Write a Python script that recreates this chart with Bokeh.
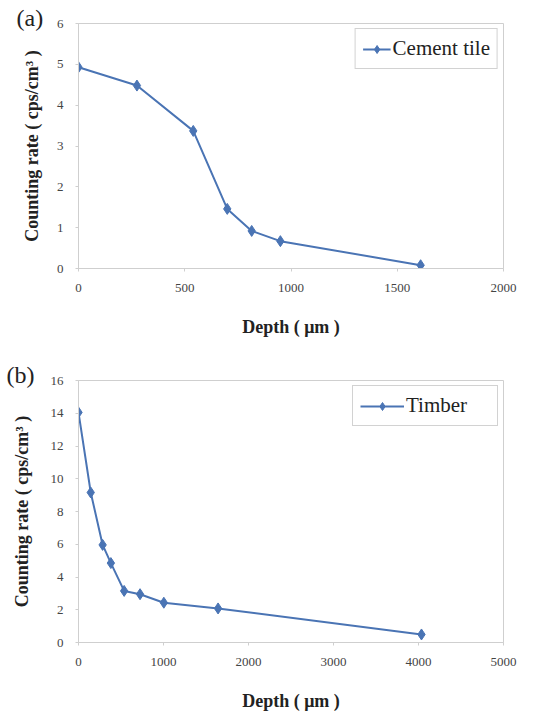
from bokeh.plotting import figure
from bokeh.layouts import column
from bokeh.models import Range1d, SingleIntervalTicker
from bokeh.embed import file_html
from bokeh.resources import INLINE

# Cement tile: counting rate vs depth
cement_depth = [0, 275, 540, 700, 815, 950, 1610]
cement_rate = [4.93, 4.48, 3.37, 1.46, 0.92, 0.67, 0.08]

# Timber: counting rate vs depth
timber_depth = [0, 144, 284, 381, 537, 724, 1004, 1642, 4035]
timber_rate = [14.05, 9.16, 5.96, 4.85, 3.15, 2.95, 2.43, 2.08, 0.49]

BLUE = "#4a74b4"
FONT = "Liberation Serif"
YLABEL = "Counting rate ( cps/cm\u00b3 )"
XLABEL = "Depth ( \u03bcm )"


def make_panel(xs, ys, name, tag, xmax, ymax, xstep, ystep, height,
               border_top, border_bottom, xlabel_standoff, ylabel_standoff,
               tag_offset, glyph_width, label_width):
    p = figure(width=552, height=height, output_backend="svg",
               toolbar_location=None,
               x_range=Range1d(0, xmax), y_range=Range1d(0, ymax),
               min_border_left=78, min_border_right=49,
               min_border_top=border_top, min_border_bottom=border_bottom)
    p.xgrid.visible = False
    p.ygrid.visible = False
    p.outline_line_color = "#cfcfcf"
    p.background_fill_color = "white"
    p.border_fill_color = "white"

    # panel tag "(a)" / "(b)" level with the top of the frame
    p.title.text = tag
    p.title.align = "left"
    p.title.offset = tag_offset
    p.title.standoff = -14
    p.title.text_font = FONT
    p.title.text_font_size = "24px"
    p.title.text_font_style = "normal"
    p.title.text_color = "#222222"

    p.xaxis.ticker = SingleIntervalTicker(interval=xstep)
    p.yaxis.ticker = SingleIntervalTicker(interval=ystep)
    for ax in (p.xaxis, p.yaxis):
        ax.axis_line_color = "#cfcfcf"
        ax.major_tick_line_color = "#cfcfcf"
        ax.major_tick_out = 3
        ax.major_tick_in = 0
        ax.minor_tick_line_color = None
        ax.major_label_text_font = FONT
        ax.major_label_text_font_size = "13px"
        ax.major_label_text_color = "#444444"
        ax.axis_label_text_font = FONT
        ax.axis_label_text_font_size = "18px"
        ax.axis_label_text_font_style = "bold"
        ax.axis_label_text_color = "#222222"

    p.xaxis.axis_label = XLABEL
    p.yaxis.axis_label = YLABEL
    p.xaxis.major_label_standoff = 11
    p.yaxis.major_label_standoff = 11
    p.xaxis.axis_label_standoff = xlabel_standoff
    p.yaxis.axis_label_standoff = ylabel_standoff

    p.line(xs, ys, line_color=BLUE, line_width=2, legend_label=name)
    p.scatter(xs, ys, marker="diamond", size=11, fill_color=BLUE,
              line_color=BLUE, legend_label=name)

    p.legend.location = "top_right"
    p.legend.margin = 5
    p.legend.padding = 7
    p.legend.spacing = 0
    p.legend.label_text_font = FONT
    p.legend.label_text_font_size = "21px"
    p.legend.label_text_color = "#222222"
    p.legend.glyph_width = glyph_width
    p.legend.label_width = label_width
    p.legend.label_standoff = 2
    p.legend.border_line_color = "#a6a6a6"
    p.legend.border_line_width = 1
    p.legend.background_fill_alpha = 1
    return p


pa = make_panel(cement_depth, cement_rate, "Cement tile", "(a)",
                2000, 6, 500, 1, 348, 23, 80, 22, 12, -62, 28, 20)
pb = make_panel(timber_depth, timber_rate, "Timber", "(b)",
                5000, 16, 1000, 2, 365, 32, 71, 22, 16, -72, 44, 84)

layout = column(pa, pb, spacing=0)
open("out.html", "w").write(file_html(layout, INLINE))
